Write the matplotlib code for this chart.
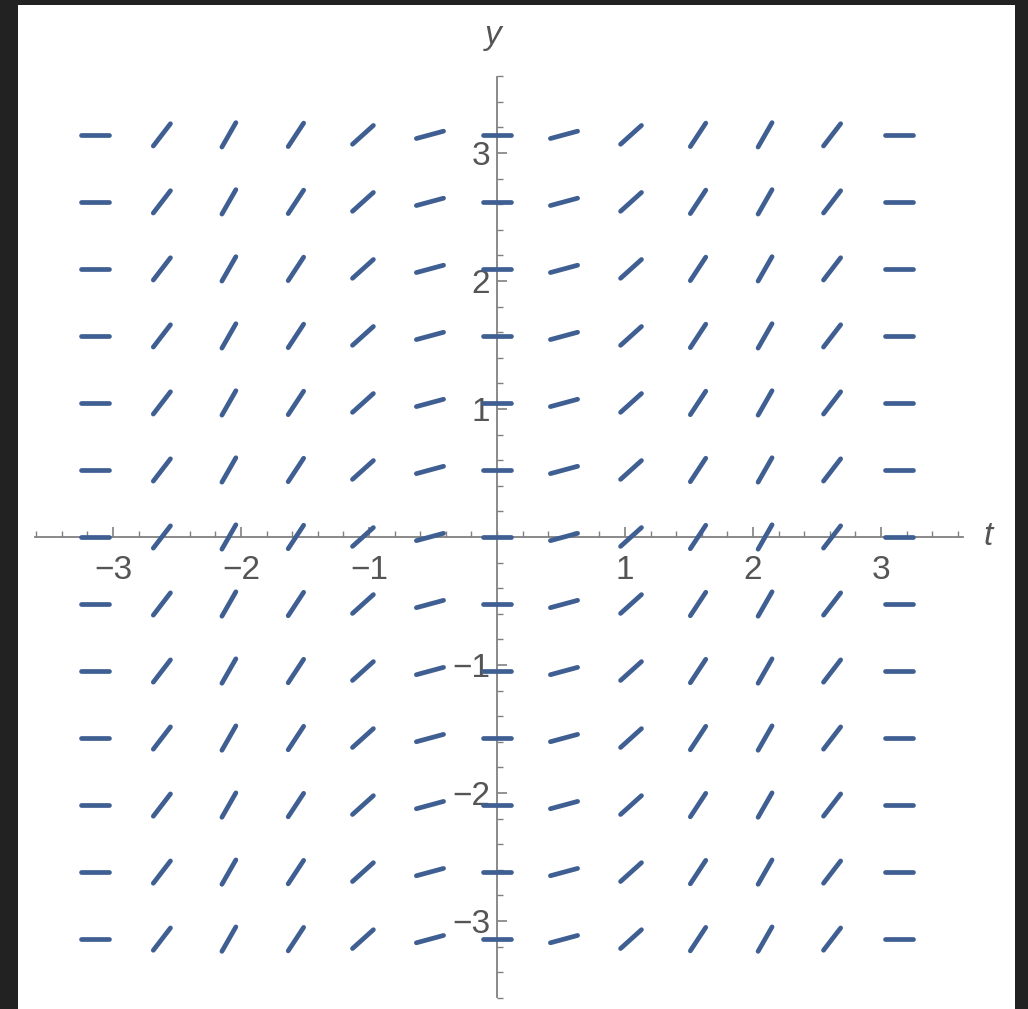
import numpy as np
import matplotlib.pyplot as plt
from matplotlib.collections import LineCollection
from matplotlib.ticker import FixedLocator

plt.rcParams['font.family'] = ['Liberation Sans', 'DejaVu Sans']

# slope field grid: 13 columns and 13 rows between -pi and pi
t_points = np.arange(-6, 7) * np.pi / 6
y_points = np.arange(-6, 7) * np.pi / 6

# slope (same for every row)
slopes = [0.0, 1.3, 1.75, 1.52, 0.9, 0.27, 0.0, 0.27, 0.9, 1.52, 1.75, 1.3, 0.0]

x_ticks = [-3, -2, -1, 1, 2, 3]
y_ticks = [-3, -2, -1, 1, 2, 3]
minor_ticks = np.round(np.arange(-3.6, 3.61, 0.2), 1)

seg_color = '#3f5f93'
axis_color = '#808080'
text_color = '#555555'
half_len = 0.11  # half length of each segment, in data units

W, H = 1028, 1009
fig = plt.figure(figsize=(W / 100, H / 100), dpi=100, facecolor='#222222')
ax = fig.add_axes([18 / W, 0, (1015 - 18) / W, (1009 - 5) / H])
ax.set_facecolor('white')
ax.set_xlim(-3.742, 4.047)
ax.set_ylim(-3.6875, 4.156)

# build the segments
segs = []
for t, m in zip(t_points, slopes):
    d = np.array([1.0, m]) / np.hypot(1.0, m) * half_len
    for y in y_points:
        segs.append([(t - d[0], y - d[1]), (t + d[0], y + d[1])])
lc = LineCollection(segs, colors=seg_color, linewidths=3.4, capstyle='round', zorder=3)
ax.add_collection(lc)

# axes through the origin, Mathematica style
for s in ['top', 'right']:
    ax.spines[s].set_visible(False)
ax.spines['bottom'].set_position(('data', 0))
ax.spines['left'].set_position(('data', 0))
ax.spines['bottom'].set_bounds(-3.61, 3.64)
ax.spines['left'].set_bounds(-3.59, 3.59)
for s in ['bottom', 'left']:
    ax.spines[s].set_color(axis_color)
    ax.spines[s].set_linewidth(1.3)

ax.xaxis.set_major_locator(FixedLocator(x_ticks))
ax.yaxis.set_major_locator(FixedLocator(y_ticks))
ax.xaxis.set_minor_locator(FixedLocator(minor_ticks))
ax.yaxis.set_minor_locator(FixedLocator(minor_ticks))
ax.tick_params(which='major', direction='in', length=7.5, width=1.2, color=axis_color,
               labelsize=24, labelcolor=text_color)
ax.tick_params(which='minor', direction='in', length=4.5, width=1.0, color=axis_color)
ax.tick_params(axis='x', which='major', pad=13)
ax.tick_params(axis='y', which='major', pad=5)

ax.text(3.84, 0.0, 't', fontsize=24, style='italic', color=text_color, ha='center', va='center')
ax.text(-0.03, 3.92, 'y', fontsize=24, style='italic', color=text_color, ha='center', va='center')

fig.savefig('out.png', dpi=100, facecolor=fig.get_facecolor())
